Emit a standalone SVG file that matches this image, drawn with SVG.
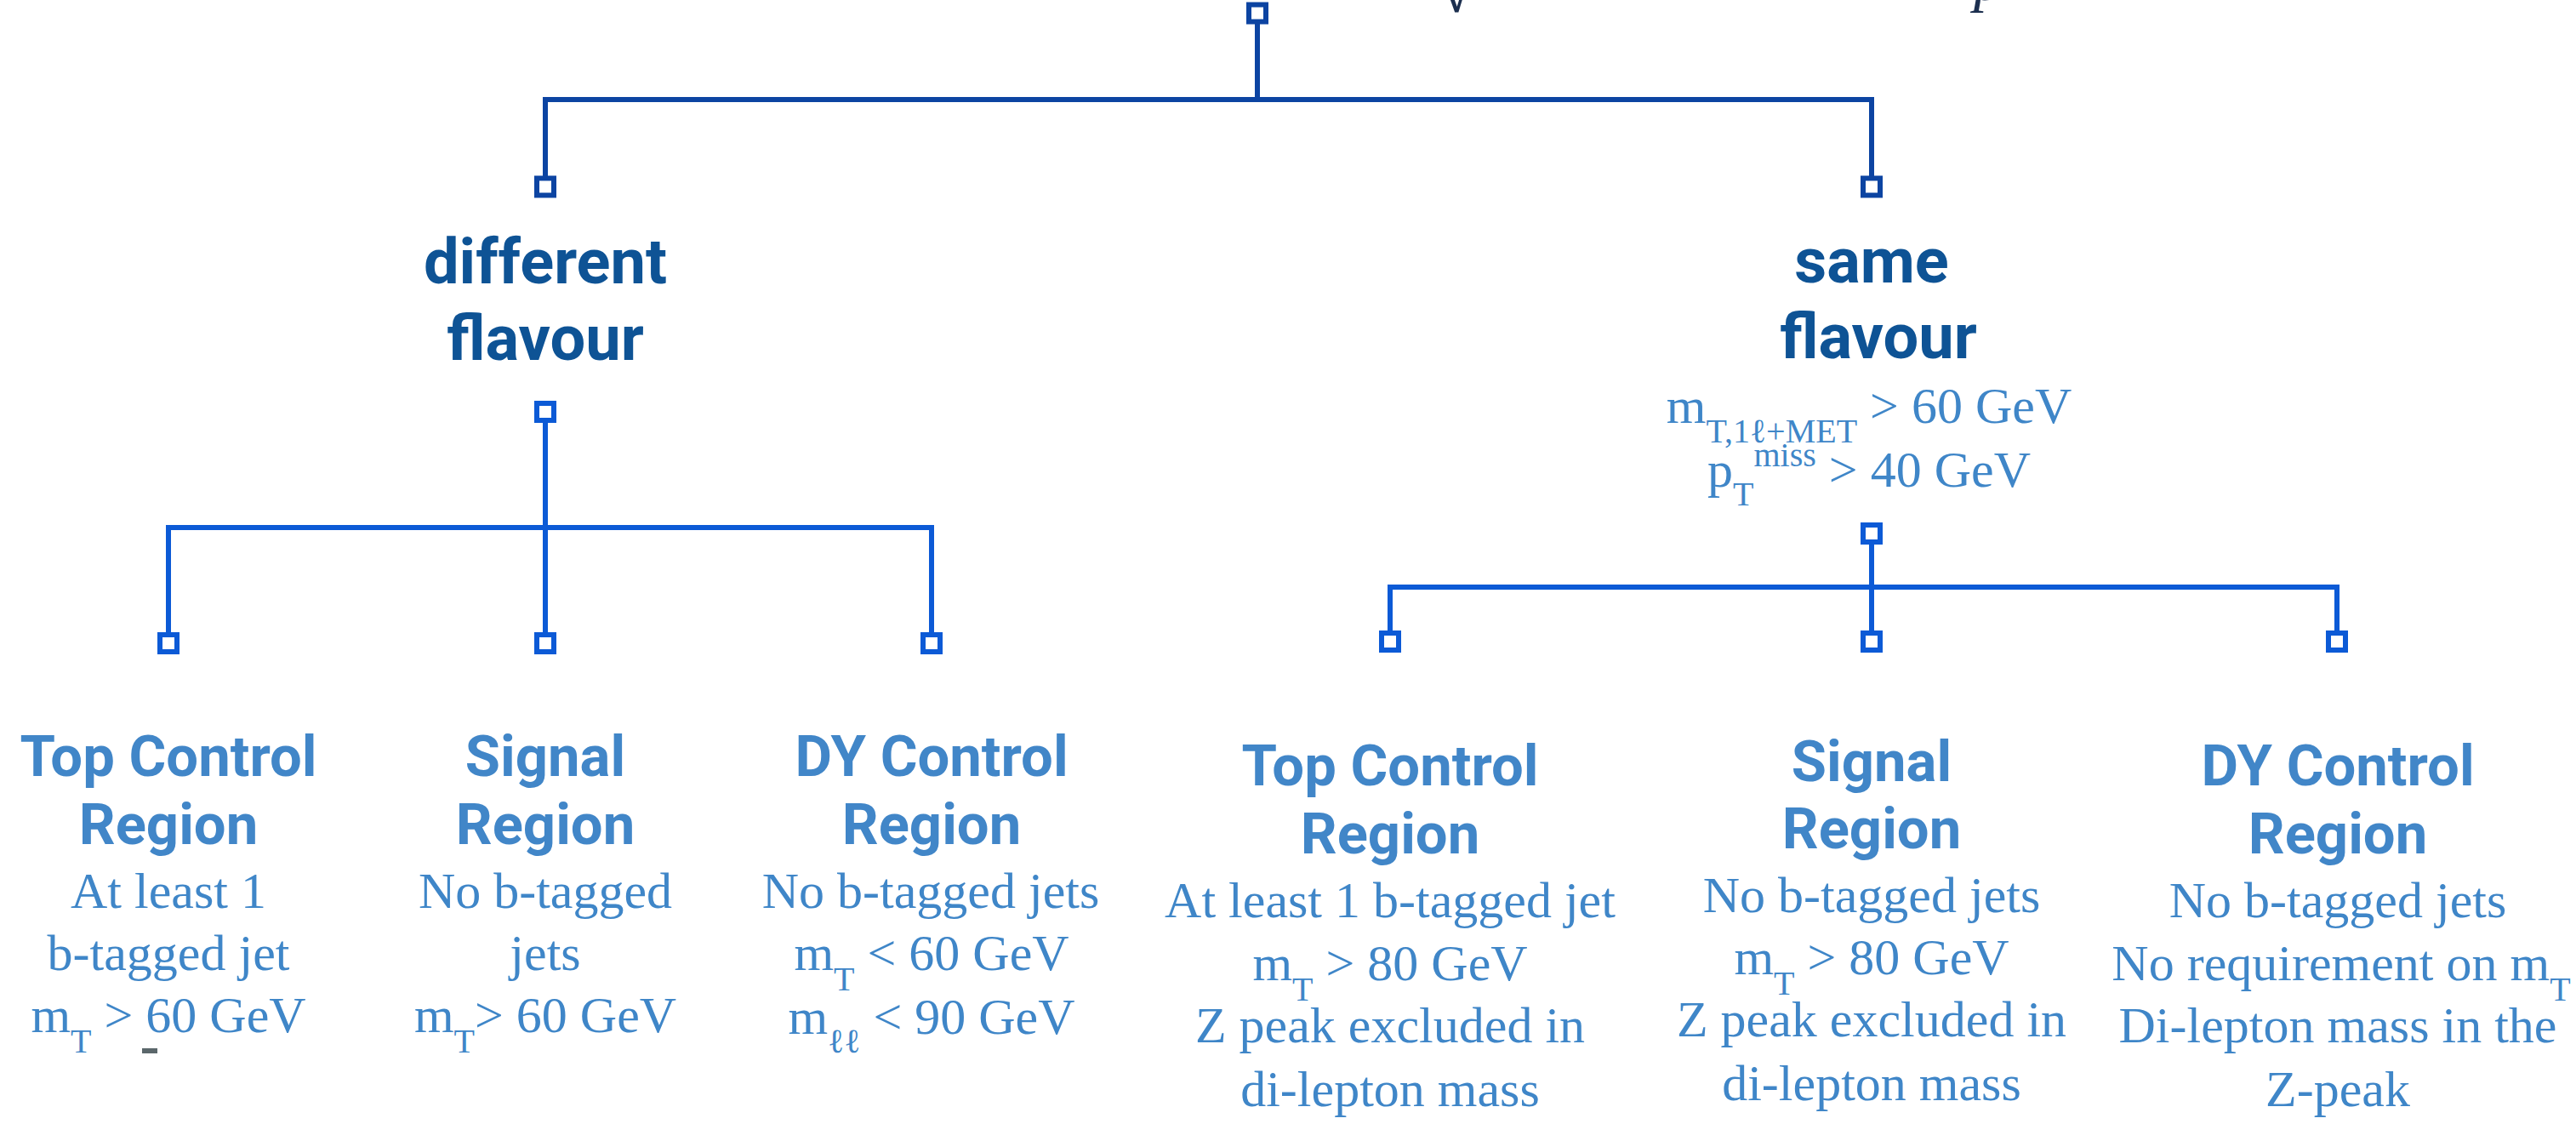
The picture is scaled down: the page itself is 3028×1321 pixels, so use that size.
<svg xmlns="http://www.w3.org/2000/svg" width="3028" height="1321" viewBox="0 0 3028 1321">
<style>
.ln1{stroke:#0c44a2;stroke-width:6;fill:none;stroke-linejoin:miter}
.ln2{stroke:#0c5ad6;stroke-width:6;fill:none;stroke-linejoin:miter}
.sq1{fill:#fff;stroke:#0c44a2;stroke-width:6}
.sq2{fill:#fff;stroke:#0c5ad6;stroke-width:6}
.hd{font-family:Roboto,"Liberation Sans",sans-serif;font-weight:700;fill:#0e5395;font-size:74px;text-anchor:middle}
.ti{font-family:Roboto,"Liberation Sans",sans-serif;font-weight:700;fill:#4186c8;font-size:67px;text-anchor:middle}
.bd{font-family:"Liberation Serif","DejaVu Serif",serif;fill:#3f86c8;font-size:60px;text-anchor:middle}
.sb{font-size:40px}
.cut{font-family:"Liberation Serif","DejaVu Serif",serif;fill:#1c2f4f}
</style>
<rect width="3028" height="1321" fill="#fff"/>
<g id="connectors">
<path class="ln1" d="M1478,28 V117"/>
<path class="ln1" d="M641,210 V117 H2200 V210"/>
<path class="ln2" d="M641,497 V620"/>
<path class="ln2" d="M198,746 V620 H1095 V746"/>
<path class="ln2" d="M641,620 V746"/>
<path class="ln2" d="M2200,640 V690"/>
<path class="ln2" d="M1634,744 V690 H2747 V744"/>
<path class="ln2" d="M2200,690 V744"/>
</g>
<g id="root">
<rect class="sq1" x="1468" y="5.5" width="20" height="20"/>
<text class="cut" x="1690" y="14" font-size="80">√</text>
<text class="cut" x="2320" y="0" font-size="70" font-style="italic">p</text>
</g>
<g id="different-flavour">
<rect class="sq1" x="631" y="209.5" width="20" height="20"/>
<text class="hd" x="641" y="333">different</text>
<text class="hd" x="641" y="423">flavour</text>
<rect class="sq2" x="631" y="474" width="20" height="20"/>
</g>
<g id="same-flavour">
<rect class="sq1" x="2190" y="209.5" width="20" height="20"/>
<text class="hd" x="2200" y="332">same</text>
<text class="hd" x="2208" y="421">flavour</text>
<text class="bd" x="2197" y="497">m<tspan class="sb" dy="23">T,1ℓ+MET</tspan><tspan dy="-23"> &gt; 60 GeV</tspan></text>
<text class="bd" x="2197" y="572">p<tspan class="sb" dy="22">T</tspan><tspan class="sb" dy="-46">miss</tspan><tspan dy="24"> &gt; 40 GeV</tspan></text>
<rect class="sq2" x="2190" y="617" width="20" height="20"/>
</g>
<g id="df-top-control">
<rect class="sq2" x="188" y="746" width="20" height="20"/>
<text class="ti" x="198" y="912">Top Control</text>
<text class="ti" x="198" y="992">Region</text>
<text class="bd" x="198" y="1067">At least 1</text>
<text class="bd" x="198" y="1140">b-tagged jet</text>
<text class="bd" x="198" y="1213">m<tspan class="sb" dy="24">T</tspan><tspan dy="-24"> &gt; 60 GeV</tspan></text>
<rect x="167" y="1232" width="18" height="6" fill="#5b676b"/>
</g>
<g id="df-signal">
<rect class="sq2" x="631" y="746" width="20" height="20"/>
<text class="ti" x="641" y="912">Signal</text>
<text class="ti" x="641" y="992">Region</text>
<text class="bd" x="641" y="1067">No b-tagged</text>
<text class="bd" x="641" y="1140">jets</text>
<text class="bd" x="641" y="1213">m<tspan class="sb" dy="24">T</tspan><tspan dy="-24">&gt; 60 GeV</tspan></text>
</g>
<g id="df-dy-control">
<rect class="sq2" x="1085" y="746" width="20" height="20"/>
<text class="ti" x="1095" y="912">DY Control</text>
<text class="ti" x="1095" y="992">Region</text>
<text class="bd" x="1094" y="1067">No b-tagged jets</text>
<text class="bd" x="1095" y="1140">m<tspan class="sb" dy="24">T</tspan><tspan dy="-24"> &lt; 60 GeV</tspan></text>
<text class="bd" x="1095" y="1215">m<tspan class="sb" dy="22">ℓℓ</tspan><tspan dy="-22"> &lt; 90 GeV</tspan></text>
</g>
<g id="sf-top-control">
<rect class="sq2" x="1624" y="744" width="20" height="20"/>
<text class="ti" x="1634" y="923">Top Control</text>
<text class="ti" x="1634" y="1003">Region</text>
<text class="bd" x="1634" y="1078">At least 1 b-tagged jet</text>
<text class="bd" x="1634" y="1152">m<tspan class="sb" dy="24">T</tspan><tspan dy="-24"> &gt; 80 GeV</tspan></text>
<text class="bd" x="1634" y="1225">Z peak excluded in</text>
<text class="bd" x="1634" y="1300">di-lepton mass</text>
</g>
<g id="sf-signal">
<rect class="sq2" x="2190" y="744" width="20" height="20"/>
<text class="ti" x="2200" y="918">Signal</text>
<text class="ti" x="2200" y="997">Region</text>
<text class="bd" x="2200" y="1072">No b-tagged jets</text>
<text class="bd" x="2200" y="1145">m<tspan class="sb" dy="24">T</tspan><tspan dy="-24"> &gt; 80 GeV</tspan></text>
<text class="bd" x="2200" y="1218">Z peak excluded in</text>
<text class="bd" x="2200" y="1293">di-lepton mass</text>
</g>
<g id="sf-dy-control">
<rect class="sq2" x="2737" y="744" width="20" height="20"/>
<text class="ti" x="2748" y="923">DY Control</text>
<text class="ti" x="2748" y="1003">Region</text>
<text class="bd" x="2748" y="1078">No b-tagged jets</text>
<text class="bd" x="2752" y="1152">No requirement on m<tspan class="sb" dy="24">T</tspan></text>
<text class="bd" x="2748" y="1225">Di-lepton mass in the</text>
<text class="bd" x="2748" y="1300">Z-peak</text>
</g>
</svg>
